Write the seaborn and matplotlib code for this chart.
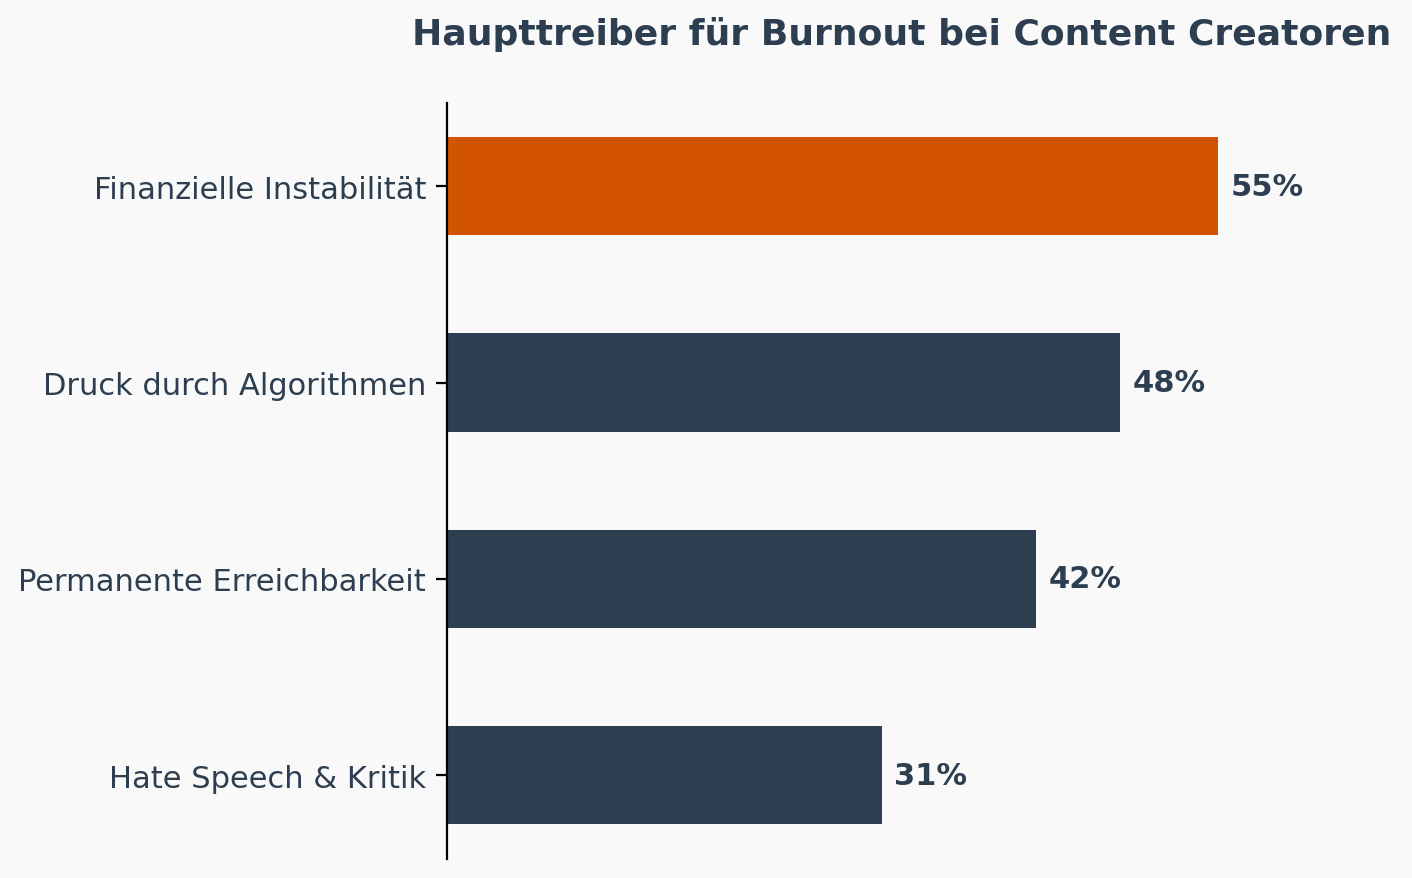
import matplotlib
matplotlib.use("Agg")
import matplotlib.pyplot as plt
import seaborn as sns
import pandas as pd

# Daten
treiber = ["Finanzielle Instabilität", "Druck durch Algorithmen",
           "Permanente Erreichbarkeit", "Hate Speech & Kritik"]
anteil = [55, 48, 42, 31]
farben = ["#d35400", "#2c3e50", "#2c3e50", "#2c3e50"]

df = pd.DataFrame({"treiber": treiber, "anteil": anteil})

sns.set_style("white")
plt.rcParams['font.family'] = ['DejaVu Sans']
textfarbe = "#2c3e50"

fig, ax = plt.subplots(figsize=(7.06, 4.395), dpi=200)
fig.patch.set_facecolor("#f9f9f9")
ax.set_facecolor("#f9f9f9")

sns.barplot(data=df, x="anteil", y="treiber", hue="treiber",
            palette=farben, width=0.5, legend=False, ax=ax, saturation=1,
            linewidth=0, edgecolor="none")

for i, v in enumerate(anteil):
    ax.text(v + 0.9, i, f"{v}%", va="center", ha="left",
            fontsize=11, fontweight="bold", color=textfarbe)

ax.set_xlim(0, 64.9)
ax.set_ylim(3.425, -0.425)
ax.set_xlabel("")
ax.set_ylabel("")
ax.set_xticks([])
ax.tick_params(axis="y", labelsize=11, colors=textfarbe, length=4,
               left=True, width=0.8)
for lab in ax.get_yticklabels():
    lab.set_color(textfarbe)
ax.tick_params(axis="y", color="black")

for s in ["top", "right", "bottom"]:
    ax.spines[s].set_visible(False)
ax.spines["left"].set_color("black")
ax.spines["left"].set_linewidth(0.8)

ax.set_title("Haupttreiber für Burnout bei Content Creatoren",
             fontsize=13, fontweight="bold", color=textfarbe, pad=21)

plt.subplots_adjust(left=0.3166, right=0.961, bottom=0.022, top=0.882)
plt.savefig("out.png", dpi=200, facecolor=fig.get_facecolor())
